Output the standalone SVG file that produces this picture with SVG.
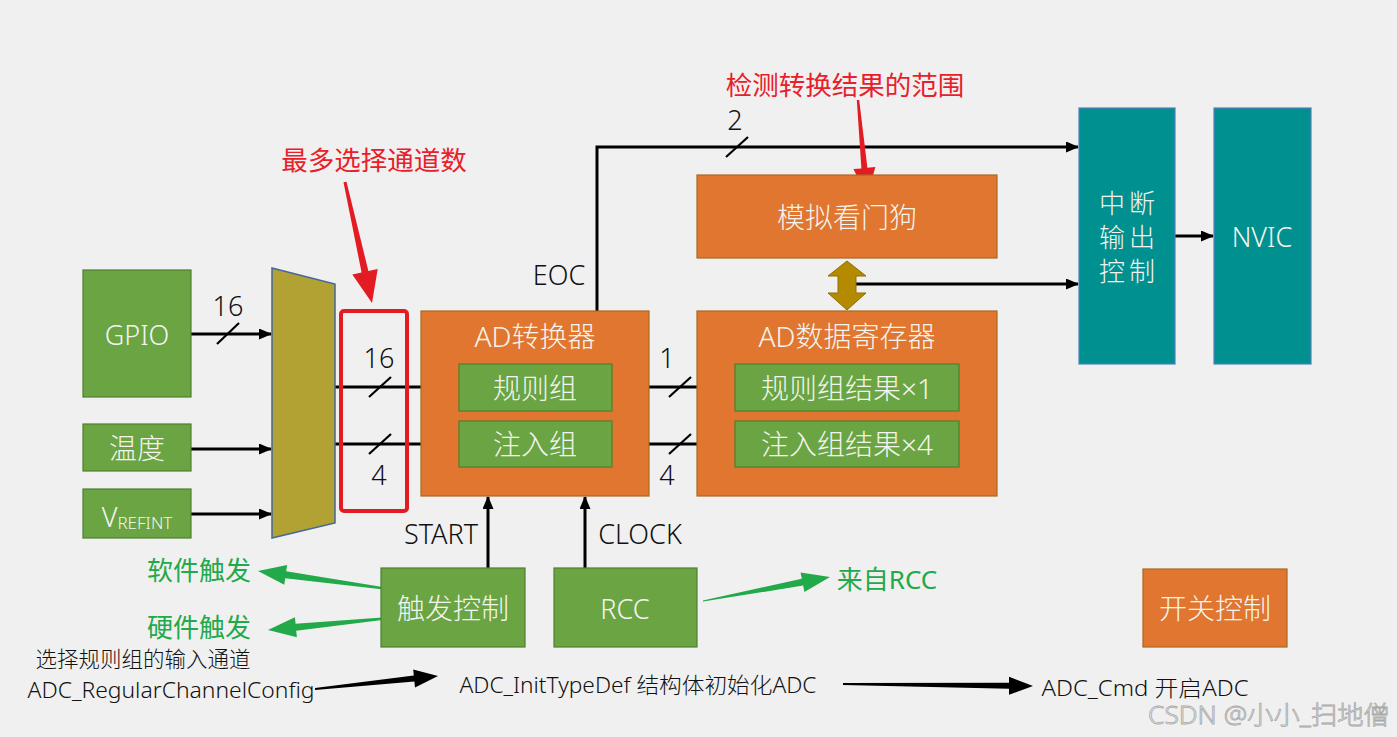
<svg xmlns="http://www.w3.org/2000/svg" width="1397" height="737" viewBox="0 0 1397 737">
<defs>
<marker id="ah" markerUnits="userSpaceOnUse" markerWidth="13" markerHeight="11" refX="12" refY="5.5" orient="auto">
<path d="M0,0 L13,5.5 L0,11 z" fill="#000"/>
</marker>
<style>
text{font-family:"Noto Sans","Noto Sans CJK SC",sans-serif;font-weight:300;}
.g{fill:#6aa443;stroke:#4f7f30;stroke-width:1.2;}
.o{fill:#e0762f;stroke:#a8691e;stroke-width:1.2;}
.t{fill:#009090;stroke:#4f81bd;stroke-width:1.2;}
.w{fill:#f4f4ee;font-size:28px;text-anchor:middle;dominant-baseline:central;}
.wl{font-size:27px;}
.ws{font-size:26px;letter-spacing:4px;}
.k{fill:#111;font-size:27px;text-anchor:middle;dominant-baseline:central;}
.b{fill:#111;font-size:21.5px;text-anchor:middle;dominant-baseline:central;}
.r{fill:#e8202a;font-size:26.5px;text-anchor:middle;dominant-baseline:central;font-weight:400;}
.gt{fill:#22a94a;font-size:26px;text-anchor:middle;dominant-baseline:central;font-weight:400;}
.ln{stroke:#000;stroke-width:3;fill:none;}
.sl{stroke:#000;stroke-width:2.2;fill:none;}
</style>
</defs>
<rect width="1397" height="737" fill="#f0f0f0"/>

<g id="connectors">
<path class="ln" d="M191,334 H271" marker-end="url(#ah)"/>
<path class="ln" d="M191,449 H271" marker-end="url(#ah)"/>
<path class="ln" d="M191,514 H271" marker-end="url(#ah)"/>
<path class="ln" d="M335,387 H458" marker-end="url(#ah)"/>
<path class="ln" d="M335,444 H458" marker-end="url(#ah)"/>
<path class="ln" d="M612,387 H734" marker-end="url(#ah)"/>
<path class="ln" d="M612,444 H734" marker-end="url(#ah)"/>
<path class="ln" d="M597,311 V147 H1078" marker-end="url(#ah)"/>
<path class="ln" d="M856,284 H1078" marker-end="url(#ah)"/>
<path class="ln" d="M1175,236 H1213" marker-end="url(#ah)"/>
<path class="ln" d="M488,568 V497" marker-end="url(#ah)"/>
<path class="ln" d="M585,568 V497" marker-end="url(#ah)"/>
<path class="sl" d="M217,344 L239,323"/>
<path class="sl" d="M369,397 L391,377"/>
<path class="sl" d="M369,454 L391,434"/>
<path class="sl" d="M669,397 L691,377"/>
<path class="sl" d="M669,454 L691,434"/>
<path class="sl" d="M726,157 L748,137"/>
<text class="k" x="228" y="305">16</text>
<text class="k" x="379" y="357">16</text>
<text class="k" x="379" y="474">4</text>
<text class="k" x="667" y="357">1</text>
<text class="k" x="667" y="474">4</text>
<text class="k" x="735" y="119">2</text>
<text class="k" x="559" y="274">EOC</text>
<text class="k" x="441" y="533">START</text>
<text class="k" x="640" y="533">CLOCK</text>
<polygon points="847,261 866,276 856,276 856,293 866,293 847,310 828,293 838,293 838,276 828,276" fill="#b38a00" stroke="#8f6e00" stroke-width="1"/>
<polygon points="410.1,591.5 286.2,571.3 287.1,564.9 258,571 284.3,584.7 285.2,578.3 409.9,592.5" fill="#22a94a"/>
<polygon points="410,615.5 295.6,623.8 294.9,617.3 268,630 296.9,637.3 296.2,630.8 410,616.5" fill="#22a94a"/>
<polygon points="703.1,601.5 803.2,585.6 804.4,592 830,577 800.6,572.4 801.8,578.8 702.9,600.5" fill="#22a94a"/>
<polygon points="315,690 414.4,681.5 415,687.4 438,676 413.2,669.6 413.8,675.5 315,688" fill="#000"/>
<polygon points="843,685 1009,688.7 1009,694.7 1033,686 1009,676.8 1009,682.7 843,683" fill="#000"/>
<polygon points="343.5,182.3 361.6,272.6 352.3,274.6 372,303 377.7,269 368.4,271 346.5,181.7" fill="#e31c24"/>
<polygon points="856.8,100.1 861.4,168.4 853.4,169.1 867,196 875.4,167.1 867.4,167.8 859.2,99.9" fill="#e31c24"/>
</g>

<g id="gpio"><rect class="g" x="83" y="270" width="108" height="127"/><text class="w wl" x="137" y="334">GPIO</text></g>
<g id="temp"><rect class="g" x="83" y="424" width="108" height="47"/><text class="w" x="137" y="448">温度</text></g>
<g id="vrefint"><rect class="g" x="83" y="489" width="108" height="49"/><text class="w wl" x="137" y="516"><tspan>V</tspan><tspan font-size="17" dy="6">REFINT</tspan></text></g>
<g id="mux"><polygon points="272,268 335,284 335,523 272,538" fill="#b1a233" stroke="#41679c" stroke-width="1.5"/></g>
<g id="select-box"><rect x="341" y="311" width="66" height="200" rx="3" fill="none" stroke="#e31c24" stroke-width="4"/></g>

<g id="adc"><rect class="o" x="421" y="311" width="228" height="185"/><text class="w" x="535" y="336">AD转换器</text></g>
<g id="regular"><rect class="g" x="459" y="364" width="153" height="47"/><text class="w" x="535" y="388">规则组</text></g>
<g id="inject"><rect class="g" x="459" y="421" width="153" height="46"/><text class="w" x="535" y="444">注入组</text></g>

<g id="datareg"><rect class="o" x="697" y="311" width="300" height="185"/><text class="w" x="847" y="336">AD数据寄存器</text></g>
<g id="regular-result"><rect class="g" x="735" y="364" width="224" height="47"/><text class="w" x="847" y="388">规则组结果×1</text></g>
<g id="inject-result"><rect class="g" x="735" y="421" width="224" height="46"/><text class="w" x="847" y="444">注入组结果×4</text></g>

<g id="watchdog"><rect class="o" x="697" y="175" width="300" height="83"/><text class="w" x="847" y="217">模拟看门狗</text></g>

<g id="interrupt"><rect class="t" x="1079" y="108" width="96" height="256"/>
<text class="w ws" x="1129" y="203">中断</text>
<text class="w ws" x="1129" y="237">输出</text>
<text class="w ws" x="1129" y="271">控制</text></g>
<g id="nvic"><rect class="t" x="1214" y="108" width="97" height="256"/><text class="w wl" x="1262" y="236">NVIC</text></g>

<g id="trigger"><rect class="g" x="381" y="568" width="144" height="79"/><text class="w" x="453" y="608">触发控制</text></g>
<g id="rcc"><rect class="g" x="554" y="568" width="143" height="79"/><text class="w wl" x="625" y="608">RCC</text></g>
<g id="switch"><rect class="o" x="1143" y="569" width="144" height="78"/><text class="w" x="1215" y="608">开关控制</text></g>

<g id="annotations">
<text class="r" x="374" y="160">最多选择通道数</text>
<text class="r" x="845" y="85">检测转换结果的范围</text>
<text class="gt" x="199" y="570">软件触发</text>
<text class="gt" x="199" y="627">硬件触发</text>
<text class="gt" x="887" y="579">来自RCC</text>
<text class="b" x="143" y="658">选择规则组的输入通道</text>
<text class="b" x="171" y="689" textLength="287" lengthAdjust="spacingAndGlyphs">ADC_RegularChannelConfig</text>
<text class="b" x="638" y="684" textLength="357" lengthAdjust="spacingAndGlyphs">ADC_InitTypeDef 结构体初始化ADC</text>
<text class="b" x="1145" y="687" textLength="207" lengthAdjust="spacingAndGlyphs">ADC_Cmd  开启ADC</text>
<text x="1269" y="714" font-size="25" fill="#f6f6f6" stroke="#a8a8a8" stroke-width="0.8" text-anchor="middle" dominant-baseline="central" textLength="242" lengthAdjust="spacingAndGlyphs">CSDN @小小_扫地僧</text>
</g>
</svg>
